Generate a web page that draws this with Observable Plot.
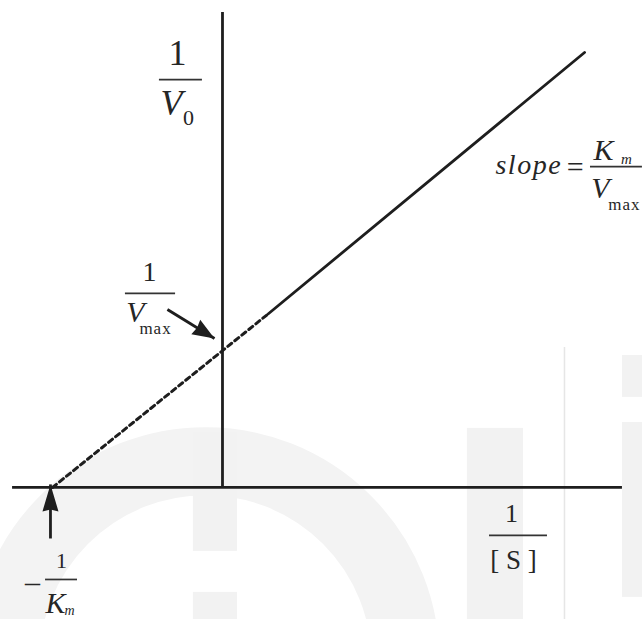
<!DOCTYPE html>
<html>
<head>
<meta charset="utf-8">
<script src="https://cdn.jsdelivr.net/npm/d3@7"></script>
<script src="https://cdn.jsdelivr.net/npm/@observablehq/plot@0.6"></script>
<style>
  html, body { margin: 0; padding: 0; background: #fff; overflow: hidden; }
  #chart svg { display: block; }
</style>
</head>
<body>
<div id="chart"></div>
<script>
// ---- Lineweaver–Burk plot (units: 1/Km = 1, 1/Vmax = 1, slope Km/Vmax = 1) ----
const lineX = [-1, 0.27, 2.13];          // x-intercept (-1/Km), end of extrapolation, end of measured line
const lineY = [0, 1.25, 3.13];
const xAxisRange = [-1.235, 2.353];
const yAxisRange = [0, 3.417];
const xDomain = [-1.306, 2.471];
const yDomain = [-0.95, 3.504];

// annotation arrows [x1, y1] -> tip [x2, y2]
const arrowStart = [[-0.324, 1.281], [-1.012, -0.367]];
const arrowTip   = [[-0.047, 1.072], [-1.012, 0.022]];

// fraction bars: [x1, x2, y]
const fracBars = [
  [-0.371, -0.118, 2.935],   // 1 / V0
  [-0.571, -0.276, 1.396],   // 1 / Vmax
  [2.165, 2.4706, 2.309],    // Km / Vmax
  [1.571, 1.912, -0.345],    // 1 / [S]
  [-1.041, -0.853, -0.662]   // 1 / Km
];

// text labels
const labelText = ["1", "V", "0", "1", "V", "max", "slope", "=", "K", "m", "V", "max", "1", "[ S ]", "\u2013", "1", "K", "m"];
const labelX    = [-0.265, -0.30, -0.20, -0.429, -0.512, -0.394, 1.606, 2.075, 2.241, 2.376, 2.224, 2.365, 1.70, 1.712, -1.118, -0.947, -0.982, -0.90];
const labelY    = [3.126, 2.763, 2.662, 1.547, 1.259, 1.147, 2.317, 2.302, 2.424, 2.360, 2.151, 2.036, -0.191, -0.522, -0.682, -0.529, -0.831, -0.888];
const labelSize = [36, 36, 22, 28, 30, 17, 28, 30, 30, 15, 30, 17, 26, 27, 30, 22, 30, 14];
const labelItalic = [false, true, false, false, true, false, true, false, true, true, true, false, false, false, false, false, true, true];
const labelSpacing = [0, 0, 0, 0, 0, 1, 1.5, 0, 0, 0, 0, 1, 0, 0, 0, 0, 0, 0];
const labelAnchor = ["middle","middle","middle","middle","middle","middle","start","middle","middle","middle","middle","middle","middle","middle","middle","middle","middle","middle"];

// faint background watermark shapes: rect [x1, x2, y1, y2]
const wmRects = [
  [-0.171, 0.088, 0.396, -0.460],
  [-0.171, 0.088, -0.755, -0.95],
  [1.441, 1.771, 0.425, -0.95],
  [2.353, 2.471, 0.950, 0.648],
  [2.353, 2.471, 0.468, -0.791]
];
const wmRingCenter = [[-0.10, -1.25]];
const wmLine = [[2.012, 1.007, -0.95]];

// ---- build tables ----
const solid = [{x: lineX[1], y: lineY[1]}, {x: lineX[2], y: lineY[2]}];
const dashed = [{x: lineX[0], y: lineY[0]}, {x: lineX[1], y: lineY[1]}];
const arrows = arrowStart.map((s, i) => ({x1: s[0], y1: s[1], x2: arrowTip[i][0], y2: arrowTip[i][1]}));
const bars = fracBars.map(([x1, x2, y]) => ({x1, x2, y}));
const labels = labelText.map((t, i) => ({
  text: t, x: labelX[i], y: labelY[i], size: labelSize[i],
  italic: labelItalic[i], spacing: labelSpacing[i], anchor: labelAnchor[i]
}));
const rects = wmRects.map(([x1, x2, y1, y2]) => ({x1, x2, y1, y2}));

const W = 642, H = 619;
const xs = Plot.scale({x: {domain: xDomain, range: [0, W]}});
const ys = Plot.scale({y: {domain: yDomain, range: [H, 0]}});

function headSymbol(a, L, Wd) {
  const dx = xs.apply(a.x2) - xs.apply(a.x1);
  const dy = ys.apply(a.y2) - ys.apply(a.y1);
  const n = Math.hypot(dx, dy), ux = dx / n, uy = dy / n, px = -uy, py = ux;
  return {
    draw(ctx) {
      ctx.moveTo(0, 0);
      ctx.lineTo(-ux * L + px * Wd / 2, -uy * L + py * Wd / 2);
      ctx.lineTo(-ux * L * 0.93, -uy * L * 0.93);
      ctx.lineTo(-ux * L - px * Wd / 2, -uy * L - py * Wd / 2);
      ctx.closePath();
    }
  };
}

const serif = "'Liberation Serif', 'Times New Roman', serif";
const ink = "#1e1e1e";

const textMarks = labels.map(l => Plot.text([l], {
  x: "x", y: "y", text: "text",
  fontSize: l.size, fontStyle: l.italic ? "italic" : "normal",
  fontFamily: serif, textAnchor: l.anchor, lineAnchor: "middle",
  fill: "#262626"
}));

const chart = Plot.plot({
  width: W, height: H, margin: 0,
  x: {domain: xDomain, axis: null},
  y: {domain: yDomain, axis: null},
  style: {background: "#fff", fontFamily: serif},
  marks: [
    // watermark
    Plot.dot(wmRingCenter, {x: d => d[0], y: d => d[1], r: 200, stroke: "#f3f3f3", strokeWidth: 68, fill: "none"}),
    Plot.rect(rects, {x1: "x1", x2: "x2", y1: "y1", y2: "y2", fill: "#f2f2f2"}),
    Plot.ruleX(wmLine, {x: d => d[0], y1: d => d[1], y2: d => d[2], stroke: "#e6e6e6", strokeWidth: 1.5}),
    // axes
    Plot.ruleY([0], {x1: xAxisRange[0], x2: xAxisRange[1], stroke: ink, strokeWidth: 2.8}),
    Plot.ruleX([0], {y1: yAxisRange[0], y2: yAxisRange[1], stroke: ink, strokeWidth: 2.8}),
    // Lineweaver–Burk line
    Plot.line(dashed, {x: "x", y: "y", stroke: ink, strokeWidth: 3, strokeDasharray: "5,4"}),
    Plot.line(solid, {x: "x", y: "y", stroke: ink, strokeWidth: 2.8}),
    // arrows
    Plot.link(arrows, {x1: "x1", y1: "y1", x2: "x2", y2: "y2", stroke: ink, strokeWidth: 2.8}),
    Plot.dot([arrows[0]], {x: "x2", y: "y2", symbol: headSymbol(arrows[0], 22, 17), fill: ink, stroke: "none"}),
    Plot.dot([arrows[1]], {x: "x2", y: "y2", symbol: headSymbol(arrows[1], 27, 16), fill: ink, stroke: "none"}),
    // fraction bars
    Plot.ruleY(bars, {y: "y", x1: "x1", x2: "x2", stroke: "#333", strokeWidth: 1.7}),
    ...textMarks
  ]
});

// apply letter spacing to spaced labels
chart.querySelectorAll("text").forEach(t => {
  const l = labels.find(d => d.text === t.textContent && d.spacing);
  if (l) t.setAttribute("letter-spacing", l.spacing);
});

document.getElementById("chart").appendChild(chart);
</script>
</body>
</html>
